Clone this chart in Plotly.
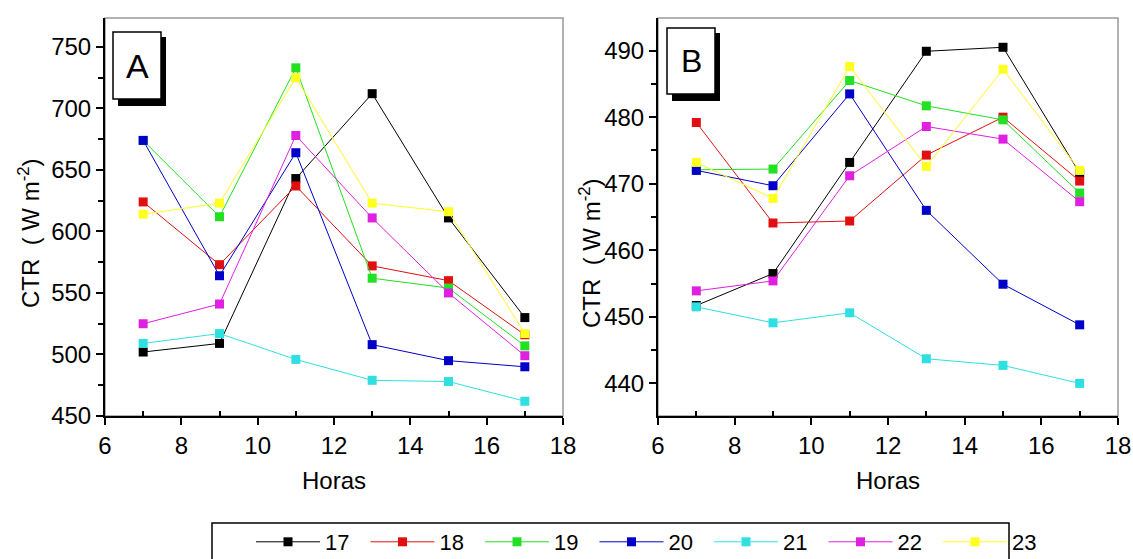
import plotly.graph_objects as go

W, H = 1133, 559

hours = [7, 9, 11, 13, 15, 17]
series_names = ["17", "18", "19", "20", "21", "22", "23"]
colors = ["#000000", "#e01010", "#22e022", "#0000c8", "#30e0e0", "#e020e0", "#ffff20"]

# Panel A values (CTR, W m-2)
a_17 = [502, 509, 643, 712, 611, 530]
a_18 = [624, 573, 637, 572, 560, 516]
a_19 = [674, 612, 733, 562, 554, 507]
a_20 = [674, 564, 664, 508, 495, 490]
a_21 = [509, 517, 496, 479, 478, 462]
a_22 = [525, 541, 678, 611, 550, 499]
a_23 = [614, 623, 725, 623, 616, 517]

# Panel B values (CTR, W m-2)
b_17 = [451.7, 456.5, 473.2, 489.9, 490.5, 471.6]
b_18 = [479.2, 464.1, 464.4, 474.3, 480.0, 470.4]
b_19 = [472.1, 472.2, 485.5, 481.7, 479.6, 468.6]
b_20 = [472.0, 469.7, 483.5, 466.0, 454.9, 448.8]
b_21 = [451.5, 449.1, 450.6, 443.7, 442.7, 440.0]
b_22 = [453.9, 455.4, 471.2, 478.6, 476.7, 467.3]
b_23 = [473.2, 467.8, 487.6, 472.6, 487.2, 472.0]

a_series = [a_17, a_18, a_19, a_20, a_21, a_22, a_23]
b_series = [b_17, b_18, b_19, b_20, b_21, b_22, b_23]

a_yticks = [450, 500, 550, 600, 650, 700, 750]
b_yticks = [440, 450, 460, 470, 480, 490]
x_ticks = [6, 8, 10, 12, 14, 16, 18]

x_title = "Horas"
y_title = "CTR  ( W m<sup>-2</sup>)"


def px(x):
    return x / W


def py(y):
    return 1 - y / H


fig = go.Figure()

for name, col, ya, yb in zip(series_names, colors, a_series, b_series):
    fig.add_trace(go.Scatter(
        x=hours, y=ya, name=name, mode="lines+markers",
        line=dict(color=col, width=1),
        marker=dict(symbol="square", size=9, color=col),
        xaxis="x", yaxis="y", legendgroup=name, showlegend=True))
    fig.add_trace(go.Scatter(
        x=hours, y=yb, name=name, mode="lines+markers",
        line=dict(color=col, width=1),
        marker=dict(symbol="square", size=9, color=col),
        xaxis="x2", yaxis="y2", legendgroup=name, showlegend=False))

font_family = "Liberation Sans, Arial, sans-serif"

axis_common = dict(
    showgrid=False, zeroline=False, showline=True, linecolor="black", linewidth=2,
    ticks="outside", ticklen=7, tickwidth=1.5, tickcolor="black",
    tickfont=dict(size=24, color="black", family=font_family),
    automargin=False,
)

fig.update_layout(
    width=W, height=H,
    margin=dict(l=0, r=0, t=0, b=0, autoexpand=False),
    paper_bgcolor="white", plot_bgcolor="white",
    font=dict(family=font_family, color="black"),
    xaxis=dict(domain=[px(105), px(563)], range=[6, 18], tickvals=x_ticks,
               anchor="y",
               minor=dict(tickvals=[7, 9, 11, 13, 15, 17], ticks="inside", ticklen=5, tickcolor="black"),
               title=dict(text=x_title, font=dict(size=24), standoff=14),
               **axis_common),
    yaxis=dict(domain=[py(416), py(18)], range=[450, 773.5], tickvals=a_yticks,
               anchor="x",
               minor=dict(tickvals=[475, 525, 575, 625, 675, 725], ticks="outside", ticklen=5, tickcolor="black"),
               **axis_common),
    xaxis2=dict(domain=[px(658), px(1118)], range=[6, 18], tickvals=x_ticks,
                anchor="y2",
                minor=dict(tickvals=[7, 9, 11, 13, 15, 17], ticks="inside", ticklen=5, tickcolor="black"),
                title=dict(text=x_title, font=dict(size=24), standoff=14),
                **axis_common),
    yaxis2=dict(domain=[py(416), py(18)], range=[435.1, 494.9], tickvals=b_yticks,
                anchor="x2",
                minor=dict(tickvals=[445, 455, 465, 475, 485], ticks="outside", ticklen=5, tickcolor="black"),
                **axis_common),
    legend=dict(orientation="h", xref="container", yref="container",
                x=px(251), y=py(542), xanchor="left", yanchor="middle",
                borderwidth=0, bgcolor="rgba(0,0,0,0)",
                font=dict(size=22, color="black"), itemwidth=64, tracegroupgap=0,
                entrywidth=35.5, entrywidthmode="pixels"),
)

shapes = []
# gray frame on top/right of each panel
for xa, yb_ref in (("x", "y"), ("x2", "y2")):
    shapes.append(dict(type="rect", xref=f"{xa} domain", yref=f"{yb_ref} domain",
                       x0=0, x1=1, y0=0, y1=1, line=dict(color="#999999", width=1.5),
                       layer="below"))

# legend frame
shapes.append(dict(type="rect", xref="paper", yref="paper",
                   x0=px(212), x1=px(1009), y0=py(575), y1=py(523),
                   line=dict(color="black", width=1.5), layer="below"))

# label boxes with shadow
for (x0, y0, x1, y1, sh) in ((113, 32, 161, 99, 5), (667, 28, 715, 94, 5)):
    shapes.append(dict(type="rect", xref="paper", yref="paper",
                       x0=px(x0 + sh), x1=px(x1 + sh), y0=py(y1 + sh + 2), y1=py(y0 + sh),
                       fillcolor="black", line=dict(color="black", width=0)))
    shapes.append(dict(type="rect", xref="paper", yref="paper",
                       x0=px(x0), x1=px(x1), y0=py(y1), y1=py(y0),
                       fillcolor="white", line=dict(color="black", width=1.5)))

fig.update_layout(shapes=shapes)

fig.add_annotation(text="A", xref="paper", yref="paper", x=px(137), y=py(66),
                   xanchor="center", yanchor="middle",
                   showarrow=False, font=dict(size=34, color="black"))
fig.add_annotation(text="B", xref="paper", yref="paper", x=px(691), y=py(61),
                   xanchor="center", yanchor="middle",
                   showarrow=False, font=dict(size=32, color="black"))

# y-axis titles
fig.add_annotation(text=y_title, xref="paper", yref="paper", x=px(29), y=py(233),
                   xanchor="center", yanchor="middle", textangle=-90,
                   showarrow=False, font=dict(size=24, color="black"))
fig.add_annotation(text=y_title, xref="paper", yref="paper", x=px(590), y=py(253),
                   xanchor="center", yanchor="middle", textangle=-90,
                   showarrow=False, font=dict(size=24, color="black"))

fig.write_html("out.html", config={"displayModeBar": False},
               post_script="document.body.style.margin='0';document.body.style.overflow='hidden';")
